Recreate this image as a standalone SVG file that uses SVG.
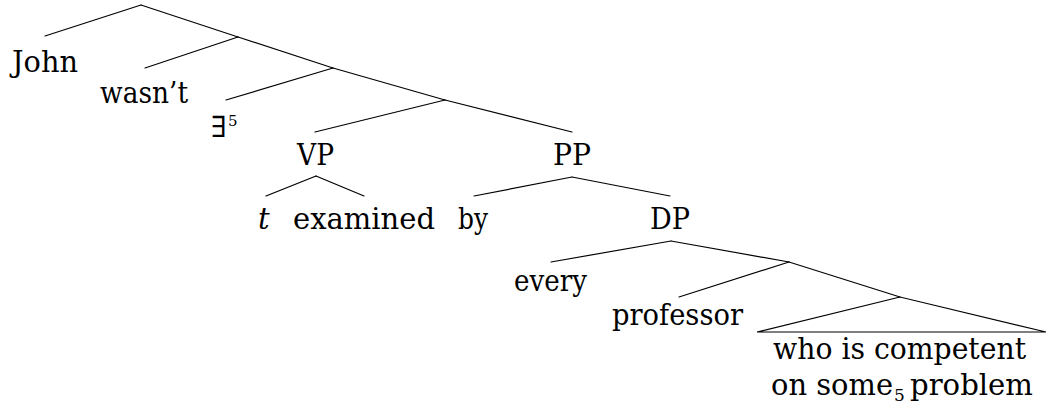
<svg xmlns="http://www.w3.org/2000/svg" width="1047" height="407" viewBox="0 0 1047 407">
<style>
.t{font-family:'DejaVu Serif',serif;font-size:29px;fill:#000}
.e line,.e polygon{stroke:#000;stroke-width:1.2;fill:none;stroke-linecap:round}
</style>
<rect width="1047" height="407" fill="#fff"/>
<g class="e" id="connectors">
<line x1="141" y1="5" x2="45" y2="36"/>
<line x1="141" y1="5" x2="238" y2="37"/>
<line x1="238" y1="37" x2="145" y2="68"/>
<line x1="238" y1="37" x2="333" y2="68"/>
<line x1="333" y1="68" x2="226" y2="100"/>
<line x1="333" y1="68" x2="445" y2="100"/>
<line x1="445" y1="100" x2="315" y2="132"/>
<line x1="445" y1="100" x2="572" y2="132"/>
<line x1="316" y1="176" x2="266" y2="196"/>
<line x1="316" y1="176" x2="364" y2="196"/>
<line x1="572" y1="177" x2="474" y2="196"/>
<line x1="572" y1="177" x2="670" y2="196"/>
<line x1="671" y1="241" x2="551" y2="262"/>
<line x1="671" y1="241" x2="789" y2="262"/>
<line x1="789" y1="262" x2="679" y2="297"/>
<line x1="789" y1="262" x2="900" y2="297"/>
<polygon points="900,297 757,332 1046,332"/>
</g>
<g id="john"><text class="t" x="12" y="72" textLength="66" lengthAdjust="spacingAndGlyphs">John</text></g>
<g id="wasnt"><text class="t" x="100" y="103" textLength="88" lengthAdjust="spacingAndGlyphs">wasn’t</text></g>
<g id="exists"><text class="t" x="211" y="137" font-size="27">∃<tspan x="228" y="126" font-size="15">5</tspan></text></g>
<g id="vp"><text class="t" x="297" y="165" textLength="37" lengthAdjust="spacingAndGlyphs">VP</text></g>
<g id="pp"><text class="t" x="553" y="165" textLength="38" lengthAdjust="spacingAndGlyphs">PP</text></g>
<g id="trace"><text class="t" x="258" y="229" font-style="italic">t</text></g>
<g id="examined"><text class="t" x="293" y="229" textLength="142" lengthAdjust="spacingAndGlyphs">examined</text></g>
<g id="by"><text class="t" x="458" y="229" textLength="30" lengthAdjust="spacingAndGlyphs">by</text></g>
<g id="dp"><text class="t" x="650" y="229" textLength="40" lengthAdjust="spacingAndGlyphs">DP</text></g>
<g id="every"><text class="t" x="514" y="291" textLength="73" lengthAdjust="spacingAndGlyphs">every</text></g>
<g id="professor"><text class="t" x="612" y="325" textLength="131" lengthAdjust="spacingAndGlyphs">professor</text></g>
<g id="relative">
<text class="t" x="773" y="359" textLength="253" lengthAdjust="spacingAndGlyphs">who is competent</text>
<text class="t" y="395"><tspan x="771" textLength="122" lengthAdjust="spacingAndGlyphs">on some</tspan><tspan x="894" y="401" font-size="17">5</tspan><tspan x="910" y="395" textLength="123" lengthAdjust="spacingAndGlyphs">problem</tspan></text>
</g>
</svg>
